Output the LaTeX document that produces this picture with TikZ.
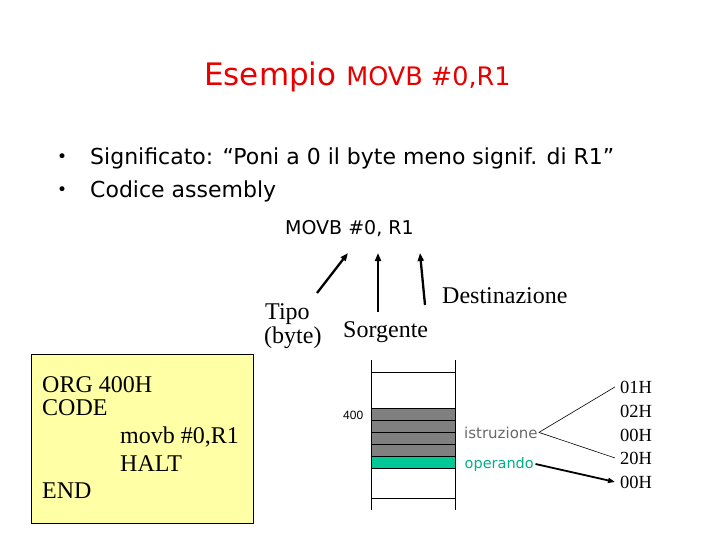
\documentclass[tikz,border=0pt]{standalone}
\usepackage{fontspec}
\setmainfont{Liberation Serif}
\newfontfamily\comicfont{DejaVu Sans}
\newfontfamily\arialfont{Liberation Sans}
\usetikzlibrary{arrows.meta}
\definecolor{titlered}{RGB}{230,0,0}
\definecolor{codeyellow}{RGB}{255,255,165}
\definecolor{opgreen}{RGB}{0,200,150}
\definecolor{optext}{RGB}{0,175,135}
\definecolor{cellgray}{RGB}{128,128,128}
\definecolor{istrgray}{RGB}{105,105,105}
\begin{document}
\begin{tikzpicture}[x=1pt,y=-1pt,
  txt/.style={inner sep=0pt,anchor=base west},
  bullet/.style={txt,font=\comicfont\fontsize{22}{22}\selectfont},
  codeline/.style={txt,font=\fontsize{24}{24}\selectfont},
  hexval/.style={txt,inner xsep=5pt,font=\fontsize{18.5}{18.5}\selectfont},
  ptr/.style={line width=2.3pt,-{Triangle[length=8pt,width=6pt]}},
  cell/.style={draw=black,line width=0.8pt}]
\useasboundingbox (0,0) rectangle (720,540);

% titolo
\node[txt,text=titlered,font=\comicfont] (title) at (204,86)
  {\fontsize{31}{31}\selectfont Esempio \fontsize{25.5}{25.5}\selectfont MOVB \#0,R1};

% elenco
\node[txt,font=\comicfont\fontsize{17}{17}\selectfont] (dot1) at (57,163) {•};
\node[txt,font=\comicfont\fontsize{17}{17}\selectfont] (dot2) at (57,196) {•};
\node[bullet] (signif) at (90,165) {Significato: “Poni a 0 il byte meno signif. di R1”};
\node[bullet] (codice) at (90,198) {Codice assembly};
\node[txt,font=\comicfont\fontsize{19}{19}\selectfont] (instr) at (285,234) {MOVB \#0, R1};

% campi dell'istruzione
\node[codeline] (tipo) at (265,319) {Tipo};
\node[codeline] (byte) at (264,343) {(byte)};
\node[codeline] (sorg) at (343,337) {Sorgente};
\node[codeline] (dest) at (442,303) {Destinazione};
\coordinate (tipotail) at (317,293);
\coordinate (tipohead) at (348,253);
\coordinate (sorgtail) at (378,312);
\coordinate (sorghead) at (378,253);
\coordinate (desttail) at (425,305);
\coordinate (desthead) at (420,253);
\draw[ptr] (tipotail) -- (tipohead);
\draw[ptr] (sorgtail) -- (sorghead);
\draw[ptr] (desttail) -- (desthead);

% programma
\draw[fill=codeyellow,line width=0.8pt] (31,354) rectangle (253,523);
\node[codeline] (org) at (42,392) {ORG 400H};
\node[codeline] (code) at (42,415) {CODE};
\node[codeline] (movb) at (120,443) {movb \#0,R1};
\node[codeline] (halt) at (120,471) {HALT};
\node[codeline] (end) at (42,498) {END};

% memoria
\foreach \y in {408,420,432,444}
  \draw[cell,fill=cellgray] (371,\y) rectangle (455,\y+12);
\draw[cell,fill=opgreen] (371,456) rectangle (455,468);
\draw[line width=0.8pt] (371,360) -- (371,510);
\draw[line width=0.8pt] (455,360) -- (455,510);
\draw[line width=0.8pt] (371,372) -- (455,372);
\draw[line width=0.8pt] (371,498) -- (455,498);
\node[txt,font=\arialfont\fontsize{12}{12}\selectfont] (addr) at (343,419) {400};
\node[txt,inner sep=1pt,text=istrgray,font=\comicfont\fontsize{15}{15}\selectfont] (istr) at (463,438) {istruzione};
\node[txt,inner sep=1.5pt,text=optext,font=\comicfont\fontsize{14.5}{14.5}\selectfont] (oper) at (463,468) {operando};

% contenuto
\node[hexval] (h1) at (615,393) {01H};
\node[hexval] (h2) at (615,417) {02H};
\node[hexval] (h3) at (615,441) {00H};
\node[hexval] (h4) at (615,464) {20H};
\node[hexval] (h5) at (615,488) {00H};
\draw[line width=0.6pt] (istr.east) -- (h1.west);
\draw[line width=0.6pt] (istr.east) -- (h4.west);
\draw[line width=1.8pt,-{Triangle[length=7pt,width=5pt]}] (oper.east) -- (h5.west);
\end{tikzpicture}
\end{document}
